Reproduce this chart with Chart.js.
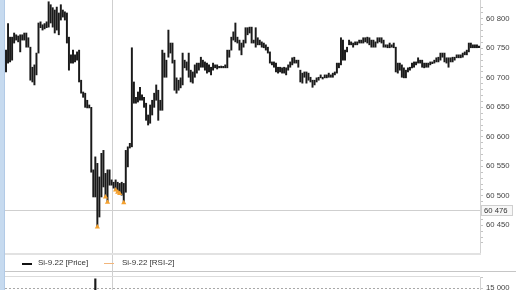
<!DOCTYPE html>
<html>
<head>
<meta charset="utf-8">
<script src="https://cdn.jsdelivr.net/npm/chart.js@4.4.1/dist/chart.umd.min.js"></script>
<style>
  html, body { margin: 0; padding: 0; background: #fff; }
  #wrap { position: relative; width: 516px; height: 290px; overflow: hidden;
          font-family: "Liberation Sans", Arial, sans-serif; }
  #main { position: absolute; left: 0; top: -8px; }
  #lower { position: absolute; left: 0; top: 267px; }
  #strip { position: absolute; left: 0; top: 0; width: 4px; height: 290px;
           background: #c6daef; border-right: 1px solid #b2cae6; }
  .mark { position: absolute; top: 263px; width: 10px; }
  .label { position: absolute; top: 258px; font-size: 8px; line-height: 10px; color: #333; }
</style>
</head>
<body>
<div id="wrap">
  <canvas id="main" width="516" height="285"></canvas>
  <canvas id="lower" width="516" height="63"></canvas>
  <div id="strip"></div>
  <div class="mark" style="left:22px; height:2px; background:#111;"></div>
  <div class="label" style="left:38px;">Si-9.22 [Price]</div>
  <div class="mark" style="left:104px; height:1px; background:#f2b57a;"></div>
  <div class="label" style="left:122px;">Si-9.22 [RSI-2]</div>
</div>
<script>
// bar highs / lows of Si-9.22, left to right
const highs = [
  60747,60792,60769,60769,60776,60773,60771,60773,60773,60776,
  60776,60768,60752,60718,60722,60742,60793,60795,60790,60792,
  60795,60829,60824,60819,60815,60820,60810,60824,60815,60812,
  60810,60769,60739,60747,60739,60744,60747,60696,60676,60674,
  60662,60654,60650,
  60544,60566,60555,60532,60572,60577,60538,60544,60544,60527,
  60523,60527,60523,60521,60523,60521,60577,60583,60589,60751,
  60693,60667,60676,60684,60671,60667,60657,60637,
  60654,60662,60674,60688,60679,60662,60747,60742,60730,60781,
  60759,60759,60730,60700,60696,60700,60742,60730,60727,60742,
  60713,60710,60722,60725,60725,60735,60730,60727,60725,60722,
  60718,60725,60722,60722,60718,60720,60718,60722,60747,60747,
  60769,60778,60793,60769,60764,60759,60764,60785,60785,60786,
  60786,60764,
  60785,60768,60764,60761,60759,60756,60752,60744,60727,60727,
  60725,60718,60718,60717,60718,60717,60722,60727,60734,60735,
  60730,60730,60713,60708,60710,60710,60708,60701,60696,60696,
  60700,60701,60705,60701,60705,60705,60708,60705,60708,60710,
  60725,60725,60768,60764,60747,60752,60764,60761,60759,60761,
  60761,60764,60764,60768,60768,60769,60768,60764,
  60764,60761,60768,60768,60768,60764,60756,60756,60759,60756,
  60759,60752,60725,60725,60722,60717,60713,60717,60718,60725,
  60727,60727,60734,60730,60730,60725,60725,60725,60727,60727,
  60730,60734,60735,60742,60742,60742,60734,60734,60734,60735,
  60735,60739,60739,60739,60742,60744,60747,60759,60759,60756,
  60756,60756,60754
];
const lows = [
  60710,60725,60727,60730,60759,60764,60761,60744,60764,60764,
  60752,60752,60696,60693,60688,60705,60742,60785,60781,60783,
  60785,60786,60793,60786,60776,60781,60773,60798,60803,60798,
  60759,60713,60725,60725,60727,60730,60693,60674,60667,60650,
  60649,60649,60540,
  60498,60498,60447,60464,60498,60515,60498,60489,60518,60518,
  60513,60510,60506,60504,60501,60488,60506,60549,60581,60583,
  60657,60657,60659,60662,60662,60650,60628,60620,
  60623,60637,60650,60662,60628,60645,60645,60701,60701,60735,
  60742,60725,60679,60674,60679,60683,60688,60717,60713,60701,
  60693,60691,60701,60708,60713,60718,60718,60713,60708,60710,
  60705,60713,60717,60715,60717,60717,60717,60717,60717,60735,
  60747,60764,60761,60759,60747,60739,60752,60759,60773,60776,
  60759,60759,
  60752,60756,60756,60752,60751,60747,60742,60725,60722,60718,
  60710,60708,60710,60708,60708,60705,60713,60718,60722,60725,
  60725,60718,60693,60691,60701,60691,60696,60693,60684,60688,
  60693,60696,60700,60698,60700,60700,60701,60701,60701,60705,
  60708,60717,60722,60730,60730,60744,60756,60756,60752,60756,
  60756,60759,60759,60759,60761,60759,60756,60752,
  60752,60752,60759,60761,60759,60752,60752,60751,60751,60752,
  60751,60710,60708,60713,60701,60700,60700,60710,60713,60717,
  60718,60722,60725,60725,60718,60717,60718,60718,60722,60724,
  60725,60727,60727,60730,60735,60727,60725,60718,60727,60727,
  60730,60734,60734,60734,60735,60739,60739,60744,60751,60751,
  60751,60751,60751
];
// bars where the RSI-2 strategy fired (orange triangles)
const rsiSignalBars = [45, 49, 50, 54, 55, 56, 58];
// the one volume bar that reaches into the lower pane
const volumeBars = [44];
const volumeValues = [19200];

const crossBar = 52;
const crossPrice = 60476;
const priceMin = 60403;
const priceMax = 60832;

const labels = highs.map((h, i) => i + 1);
const priceBars = highs.map((h, i) => [lows[i], h]);
const rsiPoints = labels.map((l, i) => rsiSignalBars.includes(i) ? lows[i] : null);
const volumes = labels.map((l, i) => {
    const k = volumeBars.indexOf(i);
    return k >= 0 ? volumeValues[k] : null;
});

const fmt = v => String(v).replace(/\B(?=(\d{3})+(?!\d))/g, ' ');
const tickFont = { family: '"Liberation Sans", Arial, sans-serif', size: 7.7 };

function rightAxis(extra) {
    return Object.assign({
        position: 'right',
        afterFit: function (scale) {
            scale.width = 36;
        },
        border: { color: '#d2d2d2' },
    }, extra);
}

const crosshair = {
    id: 'crosshair',
    beforeDatasetsDraw(chart) {
        const { ctx, chartArea: a, scales } = chart;
        const cx = Math.round(scales.x.getPixelForValue(crossBar)) + 0.5;
        ctx.save();
        ctx.strokeStyle = '#cfcfcf';
        ctx.lineWidth = 1;
        ctx.beginPath();
        ctx.moveTo(cx, 0);
        ctx.lineTo(cx, chart.height);
        ctx.stroke();
        if (chart.canvas.id === 'main') {
            const cy = Math.round(scales.y.getPixelForValue(crossPrice)) + 0.5;
            ctx.beginPath();
            ctx.moveTo(a.left, cy);
            ctx.lineTo(a.right, cy);
            ctx.stroke();
        }
        ctx.restore();
    },
    afterDraw(chart) {
        const { ctx, chartArea: a, scales } = chart;
        ctx.save();
        if (chart.canvas.id === 'main') {
            // bottom of price pane and separator under the legend
            ctx.strokeStyle = '#e2e2e2';
            ctx.lineWidth = 2;
            ctx.beginPath();
            ctx.moveTo(a.left, a.bottom + 1);
            ctx.lineTo(a.right + 1, a.bottom + 1);
            ctx.stroke();
            ctx.strokeStyle = '#c6c6c6';
            ctx.lineWidth = 1;
            ctx.beginPath();
            ctx.moveTo(0, a.bottom + 18.5);
            ctx.lineTo(chart.width, a.bottom + 18.5);
            ctx.stroke();
            // crosshair price box
            const cy = Math.round(scales.y.getPixelForValue(crossPrice));
            ctx.fillStyle = '#f7f7f7';
            ctx.strokeStyle = '#cfcfcf';
            ctx.fillRect(a.right + 1, cy - 5, 31, 10);
            ctx.strokeRect(a.right + 1.5, cy - 4.5, 31, 10);
            ctx.fillStyle = '#333';
            ctx.font = '7.7px "Liberation Sans", Arial, sans-serif';
            ctx.textBaseline = 'middle';
            ctx.fillText(fmt(crossPrice), a.right + 4, cy + 0.5);
        } else {
            ctx.strokeStyle = '#dcdcdc';
            ctx.lineWidth = 1;
            ctx.beginPath();
            ctx.moveTo(a.left, a.top - 0.5);
            ctx.lineTo(a.right, a.top - 0.5);
            ctx.stroke();
        }
        ctx.restore();
    }
};

new Chart(document.getElementById('main'), {
    type: 'bar',
    data: {
        labels: labels,
        datasets: [{
            label: 'Si-9.22 [Price]',
            data: priceBars,
            backgroundColor: '#1a1a1a',
            barThickness: 1.3,
            minBarLength: 1.5,
            order: 2
        }, {
            type: 'line',
            label: 'Si-9.22 [RSI-2]',
            data: rsiPoints,
            showLine: false,
            pointStyle: 'triangle',
            pointRadius: 3,
            pointBackgroundColor: '#f5a12f',
            pointBorderColor: '#f5a12f',
            pointBorderWidth: 0,
            order: 1
        }]
    },
    options: {
        responsive: false,
        animation: false,
        devicePixelRatio: 1,
        layout: { padding: { left: 5, top: 8, bottom: 24, right: 0 } },
        plugins: { legend: { display: false }, tooltip: { enabled: false } },
        scales: {
            x: { display: false },
            y: rightAxis({
                min: priceMin,
                max: priceMax,
                grid: {
                    drawOnChartArea: false,
                    tickLength: 3,
                    tickColor: c => (c.tick && c.tick.value % 10 === 0) ? '#c4c4c4' : 'rgba(0,0,0,0)'
                },
                ticks: {
                    stepSize: 10,
                    autoSkip: false,
                    padding: 3,
                    color: '#444',
                    font: tickFont,
                    callback: v => v % 50 === 0 ? fmt(v) : ''
                }
            })
        }
    },
    plugins: [crosshair]
});

new Chart(document.getElementById('lower'), {
    type: 'bar',
    data: {
        labels: labels,
        datasets: [{
            label: 'Volume',
            data: volumes,
            backgroundColor: '#1a1a1a',
            barThickness: 1.5
        }]
    },
    options: {
        responsive: false,
        animation: false,
        devicePixelRatio: 1,
        layout: { padding: { left: 5, top: 10, bottom: 5, right: 0 } },
        plugins: { legend: { display: false }, tooltip: { enabled: false } },
        scales: {
            x: { display: false },
            y: rightAxis({
                min: 0,
                max: 20000,
                border: { color: '#d2d2d2', dash: [2, 2] },
                grid: {
                    tickLength: 3,
                    color: c => (c.tick && c.tick.value === 15000) ? '#a8a8a8' : 'rgba(0,0,0,0)',
                    tickColor: c => (c.tick && c.tick.value % 5000 === 0) ? '#c4c4c4' : 'rgba(0,0,0,0)'
                },
                ticks: {
                    stepSize: 5000,
                    autoSkip: false,
                    padding: 3,
                    color: '#444',
                    font: tickFont,
                    callback: v => v < 20000 ? fmt(v) : ''
                }
            })
        }
    },
    plugins: [crosshair]
});
</script>
</body>
</html>
